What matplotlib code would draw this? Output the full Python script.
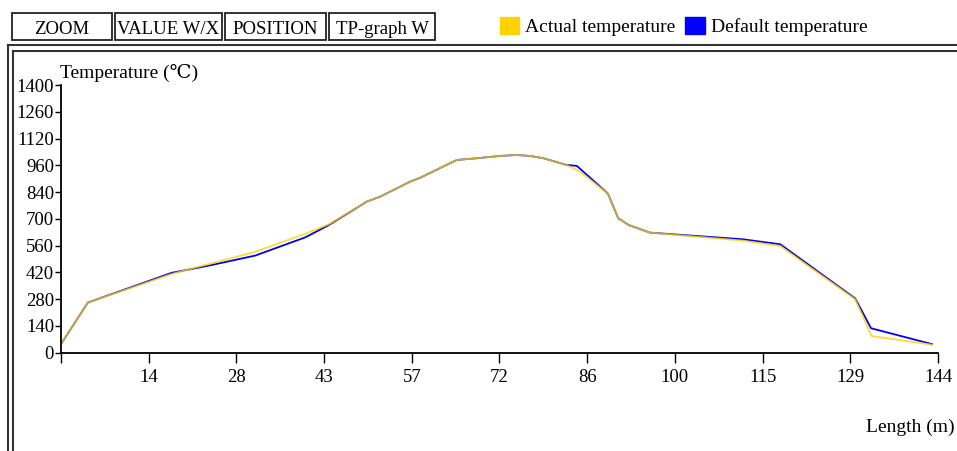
import numpy as np
import matplotlib
matplotlib.use('Agg')
import matplotlib.pyplot as plt
from matplotlib.patches import Rectangle, Patch
from matplotlib.lines import Line2D

plt.rcParams['font.family'] = ['Liberation Serif', 'DejaVu Serif']

# 读取的曲线数据 (长度 m, 温度 ℃)
default_x = [0, 4.4, 18.2, 22.0, 24.8, 31.9, 40.1, 44.0, 50.2, 52.4, 57.3, 59.0, 63.3, 65.0,
             68.3, 72.1, 74.8, 77.0, 79.2, 83.0, 84.7, 89.8, 91.5, 93.2, 96.7, 112.0, 118.1,
             130.4, 133.0, 143.0]
default_t = [45, 262, 418, 441, 459, 508, 603, 668, 790, 816, 894, 915, 982, 1008,
             1017, 1029, 1034, 1029, 1017, 982, 977, 832, 703, 668, 628, 593, 567,
             284, 128, 45]

actual_x = [0, 4.4, 18.2, 31.9, 40.1, 44.0, 50.2, 52.4, 57.3, 59.0, 63.3, 65.0,
            68.3, 72.1, 74.8, 77.0, 79.2, 83.0, 85.2, 89.8, 91.5, 93.2, 96.7, 112.0, 118.1,
            130.4, 133.1, 143.0]
actual_t = [45, 262, 412, 528, 622, 672, 790, 816, 894, 915, 982, 1008,
            1017, 1029, 1034, 1029, 1017, 982, 947, 832, 703, 668, 628, 586, 558,
            280, 87, 42]

x_labels = ['', '14', '28', '43', '57', '72', '86', '100', '115', '129', '144']
y_labels = ['0', '140', '280', '420', '560', '700', '840', '960', '1120', '1260', '1400']
buttons = ['ZOOM', 'VALUE W/X', 'POSITION', 'TP-graph W']
series_names = ['Actual temperature', 'Default temperature']
colors = ['#FFD200', '#0000FF']

W, H = 957, 451
def fx(p):
    return p / W
def fy(p):
    return 1 - p / H

fig = plt.figure(figsize=(W / 100, H / 100), dpi=100)
ax = fig.add_axes([fx(61), fy(352.7), fx(877), (352.7 - 85) / H])

ax.plot(default_x, default_t, color=colors[1], lw=1.3)
ax.plot(actual_x, actual_t, color=colors[0], lw=1.3, alpha=0.8)

ax.set_xlim(0, 144)
ax.set_ylim(0, 1400)
ax.set_xticks(np.linspace(0, 144, 11))
ax.set_xticklabels(x_labels)
ax.set_yticks(np.linspace(0, 1400, 11))
ax.set_yticklabels(y_labels)
for s in ['top', 'right']:
    ax.spines[s].set_visible(False)
ax.spines['left'].set_linewidth(1.3)
ax.spines['bottom'].set_linewidth(1.3)
ax.tick_params(axis='x', direction='out', length=7, width=1, pad=5, labelsize=13.5)
ax.tick_params(axis='y', direction='out', length=4, width=1, pad=1, labelsize=13.5)

fig.text(fx(60), fy(78), 'Temperature (\u2103)', fontsize=14, va='baseline')
fig.text(fx(955), fy(432), 'Length (m)', fontsize=14, ha='right', va='baseline')

# 外框双线
for x0, y0 in [(8, 45), (13, 51)]:
    fig.add_artist(Line2D([fx(x0), 1], [fy(y0), fy(y0)], color='#333333', lw=1.5))
    fig.add_artist(Line2D([fx(x0), fx(x0)], [fy(y0), 0], color='#333333', lw=1.5))

# 工具按钮
bx = [(12, 112), (115, 222), (225, 326), (329, 435)]
for (a, b), name in zip(bx, buttons):
    fig.add_artist(Rectangle((fx(a), fy(40)), fx(b - a), 27 / H, fill=False,
                             edgecolor='#222222', lw=1.3, transform=fig.transFigure))
    fig.text(fx((a + b) / 2), fy(34), name, fontsize=13.5, ha='center', va='baseline')

handles = [Patch(facecolor=c, edgecolor=c) for c in colors]
fig.legend(handles, series_names, loc='upper left', bbox_to_anchor=(fx(500), fy(17)),
           ncol=2, frameon=False, fontsize=14, handlelength=1.0, handleheight=1.0,
           handletextpad=0.3, columnspacing=0.5, borderpad=0, borderaxespad=0)

fig.savefig('out.png', dpi=100)
